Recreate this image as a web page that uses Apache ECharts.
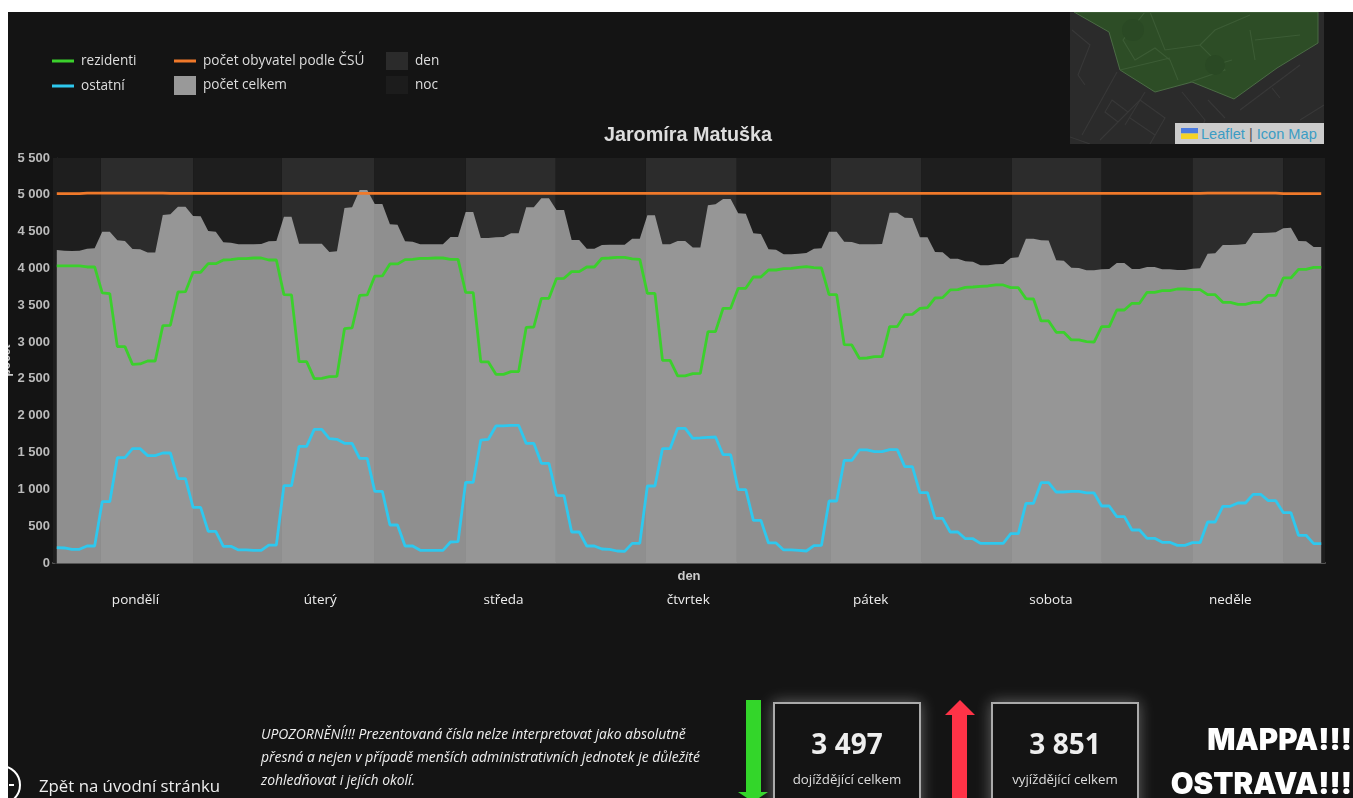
<!DOCTYPE html>
<html lang="cs"><head><meta charset="utf-8"><title>Jaromíra Matuška</title>
<script src="https://cdn.jsdelivr.net/npm/echarts@6/dist/echarts.min.js"></script>
<style>
html,body{margin:0;padding:0;width:1353px;height:798px;overflow:hidden;background:#141414;font-family:"Open Sans",sans-serif;color:#eee}
#chart{position:absolute;left:0;top:0;width:1353px;height:798px}
.abs{position:absolute}
.box{position:absolute;top:702px;width:144px;height:110px;border:2px solid #aaa;background:#141414;box-shadow:0 0 14px rgba(255,255,255,.35);text-align:center}
.num{position:absolute;left:0;right:0;top:22px;font-size:28px;font-weight:700;color:#eee;line-height:34px}
.sub{position:absolute;left:0;right:0;top:66px;font-size:13.3px;color:#ddd;line-height:18px}
.warn{position:absolute;left:261px;font-size:13.9px;font-style:italic;color:#eee;white-space:nowrap;line-height:18px}
.brand{position:absolute;right:1px;font-family:Inter,Roboto,sans-serif;font-weight:900;font-size:29.5px;color:#fff;white-space:nowrap;line-height:32px}
</style></head><body>
<div id="chart"></div>
<svg class="abs" style="left:1070px;top:12px" width="254" height="132" viewBox="1070 12 254 132">
<rect x="1070" y="12" width="254" height="132" fill="#2b2b2b"/>
<g fill="none" stroke="#383838" stroke-width="1.1">
<path d="M1072 30L1090 45L1078 75L1085 85M1117 72L1082 135M1100 140L1140 100L1165 118L1150 144M1112 100L1128 112L1118 122L1105 112Z"/>
<path d="M1130 118L1155 135M1145 92L1125 125M1182 92L1205 120L1195 144M1240 110L1300 65M1272 88L1280 98M1300 120L1324 105M1208 100L1225 118M1070 137L1090 144"/>
</g>
<path d="M1074 12L1109 32L1120 70L1155 92L1192 82L1234 99L1277 68L1318 43V12Z" fill="#2d4d26" stroke="#4b6b45" stroke-width="1"/>
<g fill="none" stroke="#3c5c35" stroke-width="1.1">
<path d="M1145 12L1123 40L1135 60L1155 48L1170 60L1178 80M1150 12L1165 50L1200 45L1225 70L1190 82M1200 45L1215 30L1250 15M1250 30L1255 60M1255 40L1300 35M1120 70L1170 58M1215 65L1232 60"/>
</g>
<circle cx="1133" cy="30" r="11" fill="#2a4924"/><circle cx="1215" cy="65" r="10" fill="#2a4924"/>
<rect x="1175" y="123" width="149" height="21" fill="#cccccc"/>
<rect x="1181" y="128" width="17" height="5.5" fill="#4c7be0"/><rect x="1181" y="133.5" width="17" height="5.5" fill="#f5d327"/>
<text x="1201" y="139" font-family="Liberation Sans,Arial,sans-serif" font-size="14.6" fill="#3b9cc4">Leaflet <tspan fill="#555">|</tspan> Icon Map</text>
</svg>
<div class="warn" style="top:725px">UPOZORNĚNÍ!!! Prezentovaná čísla nelze interpretovat jako absolutně</div>
<div class="warn" style="top:748px">přesná a nejen v případě menších administrativních jednotek je důležité</div>
<div class="warn" style="top:771px">zohledňovat i jejích okolí.</div>
<svg class="abs" style="left:0;top:750px" width="30" height="48"><circle cx="1" cy="35" r="19" fill="none" stroke="#fff" stroke-width="2"/><path d="M9 35h5" stroke="#fff" stroke-width="2"/></svg>
<div class="abs" style="left:39px;top:774px;font-size:16.8px;color:#eee;white-space:nowrap">Zpět na úvodní stránku</div>
<svg class="abs" style="left:735px;top:698px" width="36" height="100"><rect x="11" y="2" width="15" height="92" fill="#33d62a"/><path d="M3 94H33L18 104Z" fill="#33d62a"/></svg>
<div class="box" style="left:773px"><div class="num">3 497</div><div class="sub">dojíždějící celkem</div></div>
<svg class="abs" style="left:942px;top:698px" width="36" height="100"><rect x="10" y="16" width="15" height="84" fill="#ff3347"/><path d="M3 17H33L18 2Z" fill="#ff3347"/></svg>
<div class="box" style="left:991px"><div class="num">3 851</div><div class="sub">vyjíždějící celkem</div></div>
<div class="brand" style="top:723px">MAPPA!!!</div>
<div class="brand" style="top:767px">OSTRAVA!!!</div>
<div class="abs" style="left:0;top:0;width:1353px;height:12px;background:#fff"></div>
<div class="abs" style="left:0;top:0;width:8px;height:798px;background:#fff"></div>
<script>
const dayNames = ['pondělí','úterý','středa','čtvrtek','pátek','sobota','neděle'];
const dayLabelHours = [10.4,34.8,59,83.4,107.5,131.3,155];
const yTicksMax = 5500;
const denBands = [[5.8,18],[29.7,41.9],[54,65.9],[77.8,89.8],[102.2,114.2],[126.1,138],[150,162]];
const nocBands = [[-0.5,5.8],[18,29.7],[41.9,54],[65.9,77.8],[89.8,102.2],[114.2,126.1],[138,150],[162,167.5]];
const rezidenti = [
4035,4035,4035,4035,4020,4020,3667,3658,2938,2938,2698,2703,2743,2743,3223,3228,3680,3685,3948,3948,4065,4065,4115,4120,
4133,4133,4142,4142,4115,4115,3644,3640,2734,2734,2503,2508,2531,2535,3182,3192,3635,3640,3896,3898,4061,4061,4120,4124,
4138,4138,4142,4142,4124,4124,3676,3671,2730,2730,2562,2562,2599,2599,3201,3205,3594,3594,3862,3866,3957,3957,4020,4020,
4138,4142,4151,4151,4129,4124,3662,3662,2752,2752,2540,2540,2571,2576,3142,3142,3459,3459,3730,3730,3884,3884,3979,3979,
3997,4002,4015,4025,4011,4006,3644,3644,2965,2961,2780,2784,2802,2802,3210,3210,3373,3377,3459,3468,3599,3604,3708,3712,
3744,3748,3757,3762,3776,3776,3739,3739,3590,3585,3287,3287,3133,3133,3029,3029,3006,3001,3210,3210,3436,3436,3527,3527,
3676,3676,3699,3699,3721,3721,3712,3712,3644,3644,3540,3540,3513,3513,3540,3540,3635,3635,3871,3871,3988,3988,4015,4015];
const ostatni = [
208,204,186,186,231,231,833,833,1430,1430,1553,1553,1458,1458,1494,1494,1145,1145,756,756,430,430,226,226,
177,177,172,172,244,244,1050,1050,1584,1584,1815,1815,1689,1680,1625,1625,1421,1421,973,973,516,516,231,231,
172,172,172,172,285,290,1096,1096,1670,1680,1861,1861,1870,1870,1625,1625,1354,1354,919,914,421,421,231,231,
190,186,163,158,267,267,1046,1046,1553,1553,1829,1829,1693,1698,1707,1711,1471,1471,996,996,579,579,272,272,
177,177,172,163,235,240,842,842,1394,1394,1535,1535,1512,1512,1539,1539,1308,1308,955,955,607,607,421,421,
330,330,267,267,267,267,398,398,810,810,1091,1091,964,964,973,973,951,951,774,774,629,629,448,448,
335,335,281,281,240,240,276,276,557,557,770,770,815,815,933,933,847,847,684,684,376,376,263,263];
const celkem = [
4251,4242,4237,4242,4269,4274,4500,4500,4382,4373,4264,4260,4215,4215,4726,4735,4839,4839,4713,4708,4509,4500,4355,4350,
4328,4328,4328,4332,4369,4373,4703,4703,4337,4337,4337,4337,4225,4233,4821,4830,5066,5066,4876,4876,4600,4595,4369,4364,
4328,4328,4328,4328,4427,4427,4767,4767,4414,4414,4423,4427,4477,4477,4830,4830,4952,4952,4794,4794,4387,4387,4269,4269,
4319,4323,4323,4323,4405,4405,4722,4722,4328,4328,4373,4373,4283,4283,4857,4871,4944,4944,4749,4744,4477,4468,4260,4255,
4192,4192,4201,4210,4269,4274,4500,4500,4364,4360,4328,4328,4328,4332,4758,4758,4690,4686,4423,4423,4224,4219,4133,4133,
4097,4092,4043,4043,4056,4061,4142,4151,4405,4405,4382,4378,4111,4106,4011,4006,3975,3975,3988,3993,4074,4074,3993,3993,
4020,4020,3988,3988,3979,3979,3997,4002,4201,4206,4319,4319,4323,4332,4482,4482,4486,4491,4545,4554,4373,4369,4292,4292];
const obyvatele = [
5017,5017,5017,5017,5023,5023,5023,5023,5023,5023,5023,5023,5023,5023,5023,5020,5020,5020,5020,5020,5020,5020,5020,5020,
5020,5020,5020,5020,5020,5020,5020,5020,5020,5020,5020,5020,5020,5020,5020,5020,5020,5020,5020,5020,5020,5020,5020,5020,
5020,5020,5020,5020,5020,5020,5020,5020,5020,5020,5020,5020,5020,5020,5020,5020,5020,5020,5020,5020,5020,5020,5020,5020,
5020,5020,5020,5020,5020,5020,5020,5020,5020,5020,5020,5020,5020,5020,5020,5020,5020,5020,5020,5020,5020,5020,5020,5020,
5020,5020,5020,5020,5020,5020,5020,5020,5020,5020,5020,5020,5020,5020,5020,5020,5020,5020,5020,5020,5020,5020,5020,5020,
5020,5020,5020,5020,5020,5020,5020,5020,5020,5020,5020,5020,5020,5020,5020,5020,5020,5020,5020,5020,5020,5020,5020,5020,
5020,5020,5020,5020,5020,5020,5020,5020,5023,5023,5023,5023,5023,5023,5023,5023,5023,5023,5017,5017,5017,5017,5017,5017];
const toPairs = a => a.map((v,i)=>[i,v]);
const lineFont = '"Open Sans",sans-serif', axisFont = '"Liberation Sans",Arial,sans-serif';
const legendText = {color:'#dddddd',fontSize:13.6,fontFamily:lineFont,padding:[0,0,0,2]};
const chart = echarts.init(document.getElementById('chart'),null,{renderer:'canvas'});
chart.setOption({
 animation:false,backgroundColor:'#141414',
 title:{text:'Jaromíra Matuška',left:688,top:126,padding:0,textAlign:'center',textStyle:{color:'#dddddd',fontSize:19.8,fontWeight:'bold',fontFamily:axisFont}},
 legend:[
  {left:52,top:54,padding:0,orient:'vertical',itemWidth:22,itemHeight:3,itemGap:11,selectedMode:false,textStyle:legendText,data:[{name:'rezidenti',icon:'rect'},{name:'ostatní',icon:'rect'}]},
  {left:174,top:54,padding:0,itemWidth:22,itemHeight:3,selectedMode:false,textStyle:legendText,data:[{name:'počet obyvatel podle ČSÚ',icon:'rect'}]},
  {left:174,top:76,padding:0,itemWidth:22,itemHeight:19,selectedMode:false,textStyle:legendText,data:[{name:'počet celkem',icon:'rect',itemStyle:{color:'#999999'}}]},
  {left:386,top:52,padding:0,orient:'vertical',itemWidth:22,itemHeight:18,itemGap:6,selectedMode:false,textStyle:legendText,data:[{name:'den',icon:'rect',itemStyle:{color:'#2b2b2b'}},{name:'noc',icon:'rect',itemStyle:{color:'#1c1c1c'}}]}
 ],
 grid:{left:53,right:28,top:158,bottom:235,outerBoundsMode:'none'},
 xAxis:{type:'value',min:-0.5,max:167.5,name:'den',nameLocation:'middle',nameGap:7,nameMoveOverlap:false,nameTextStyle:{color:'#cccccc',fontWeight:'bold',fontSize:13,fontFamily:axisFont},
  splitLine:{show:false},axisTick:{show:false},axisLine:{show:true,onZero:false,lineStyle:{color:'#555555',width:2}},
  axisLabel:{customValues:dayLabelHours,margin:30,color:'#eeeeee',fontSize:13.5,fontFamily:lineFont,hideOverlap:false,formatter:v=>dayNames[dayLabelHours.indexOf(v)]||''}},
 yAxis:{type:'value',min:0,max:yTicksMax,interval:500,name:'počet',nameLocation:'middle',nameGap:40,nameMoveOverlap:false,nameTextStyle:{color:'#cccccc',fontWeight:'bold',fontSize:12,fontFamily:axisFont},
  splitLine:{show:false},axisLine:{show:true,lineStyle:{color:'#333333',width:1}},axisTick:{show:true,length:2,lineStyle:{color:'#333333'}},
  axisLabel:{margin:3,color:'#bbbbbb',fontWeight:'bold',fontSize:13,fontFamily:axisFont,formatter:v=>String(v).replace(/\B(?=(\d{3})+$)/g,' ')}},
 series:[
  {name:'den',type:'line',z:0,data:[],itemStyle:{color:'#2b2b2b'},silent:true,markArea:{silent:true,itemStyle:{color:'#2c2c2c'},data:denBands.map(b=>[{xAxis:b[0]},{xAxis:b[1]}])}},
  {name:'noc',type:'line',z:0,data:[],itemStyle:{color:'#1c1c1c'},silent:true,markArea:{silent:true,itemStyle:{color:'#1e1e1e'},data:nocBands.map(b=>[{xAxis:b[0]},{xAxis:b[1]}])}},
  {name:'počet celkem',type:'line',z:2,showSymbol:false,symbol:'none',data:toPairs(celkem),itemStyle:{color:'#999999'},lineStyle:{width:0},areaStyle:{color:'rgba(255,255,255,0.5)',opacity:1}},
  {name:'počet obyvatel podle ČSÚ',type:'line',z:3,showSymbol:false,symbol:'none',data:toPairs(obyvatele),itemStyle:{color:'#f0792a'},lineStyle:{color:'#f0792a',width:2.8}},
  {name:'rezidenti',type:'line',z:4,showSymbol:false,symbol:'none',data:toPairs(rezidenti),itemStyle:{color:'#3bd02c'},lineStyle:{color:'#3bd02c',width:2.8}},
  {name:'ostatní',type:'line',z:5,showSymbol:false,symbol:'none',data:toPairs(ostatni),itemStyle:{color:'#2ec8ee'},lineStyle:{color:'#2ec8ee',width:2.8}}
 ]
});
</script>
</body></html>
